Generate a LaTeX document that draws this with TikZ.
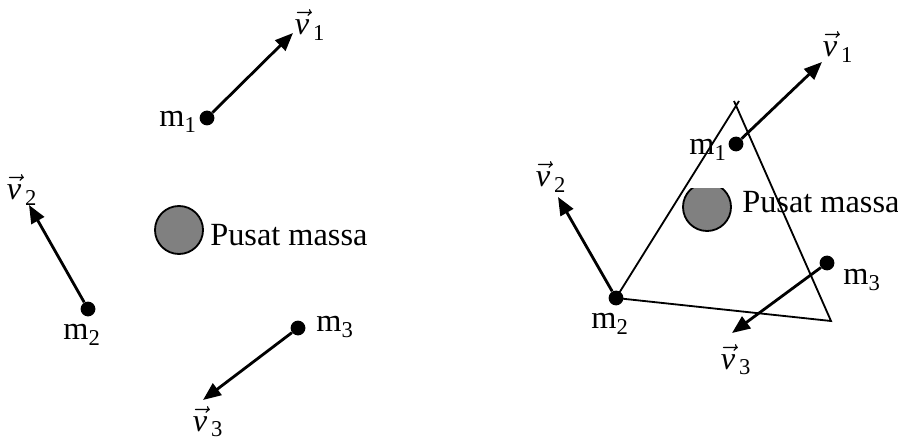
\documentclass[tikz,border=0pt]{standalone}
\usepackage{amsmath}
\usepackage{fontspec}
\setmainfont{Liberation Serif}
\usetikzlibrary{arrows.meta,positioning}
\definecolor{cmgray}{RGB}{128,128,128}
\newcommand{\vlab}[1]{$\vec{\textit{v}}_{\,\textrm{#1}}$}
\newcommand{\mlab}[1]{m$_{\textrm{#1}}$}
\tikzset{
  mass/.style={circle, fill=black, inner sep=0pt, minimum size=0.37cm},
  velo/.style={line width=2pt, -{Triangle[length=0.45cm, width=0.36cm]}},
  txt/.style={inner sep=0pt, font=\fontsize{23}{27}\selectfont},
  side/.style={line width=1.3pt},
  cmass/.style={circle, draw=black, line width=1.3pt, fill=cmgray, inner sep=0pt, minimum size=1.2cm}
}

\begin{document}
\begin{tikzpicture}[x=0.025cm, y=-0.025cm]
  \useasboundingbox (0,0) rectangle (898,445);

  % left: three masses
  \node[mass] (m1L) at (207,118) {};
  \node[mass] (m2L) at (88,309) {};
  \node[mass] (m3L) at (298,328) {};
  \coordinate (v1L) at (293,33);
  \coordinate (v2L) at (29,205);
  \coordinate (v3L) at (203,400);
  \draw[velo] (m1L) -- (v1L);
  \draw[velo] (m2L) -- (v2L);
  \draw[velo] (m3L) -- (v3L);
  \node[txt] (lm1L) at (178,122) {\mlab{1}};
  \node[txt] (lm2L) at (82,335) {\mlab{2}};
  \node[txt] (lm3L) at (335,327) {\mlab{3}};
  \node[txt] (lv1L) at (310,25) {\vlab{1}};
  \node[txt] (lv2L) at (22,190) {\vlab{2}};
  \node[txt] (lv3L) at (208,422) {\vlab{3}};
  \node[cmass] (cmL) at (179,230) {};
  \node[txt, anchor=base west] (pmL) at (210,245) {Pusat massa};

  % right: masses with triangle
  \node[mass] (m1R) at (736,144) {};
  \node[mass] (m2R) at (616,298) {};
  \node[mass] (m3R) at (827,263) {};
  \coordinate (topR) at (739,101);
  \coordinate (topR2) at (734,101);
  \coordinate (brR) at (831,321);
  \draw[side] (m2R.center) -- (topR);
  \draw[side] (topR2) -- (brR) -- (m2R.center);
  \coordinate (v1R) at (822,62);
  \coordinate (v2R) at (558,197);
  \coordinate (v3R) at (732,333);
  \draw[velo] (m1R) -- (v1R);
  \draw[velo] (m2R) -- (v2R);
  \draw[velo] (m3R) -- (v3R);
  \node[txt] (lm1R) at (708,150) {\mlab{1}};
  \node[txt] (lm2R) at (610,324) {\mlab{2}};
  \node[txt] (lm3R) at (862,280) {\mlab{3}};
  \node[txt] (lv1R) at (838,47) {\vlab{1}};
  \node[txt] (lv2R) at (551,177) {\vlab{2}};
  \node[txt] (lv3R) at (736,360) {\vlab{3}};
  \begin{scope}
    \clip (670,189) rectangle (745,245);
    \node[cmass] (cmR) at (707,207) {};
  \end{scope}
  \node[txt, anchor=base west] (pmR) at (742,213) {Pusat massa};
\end{tikzpicture}
\end{document}
